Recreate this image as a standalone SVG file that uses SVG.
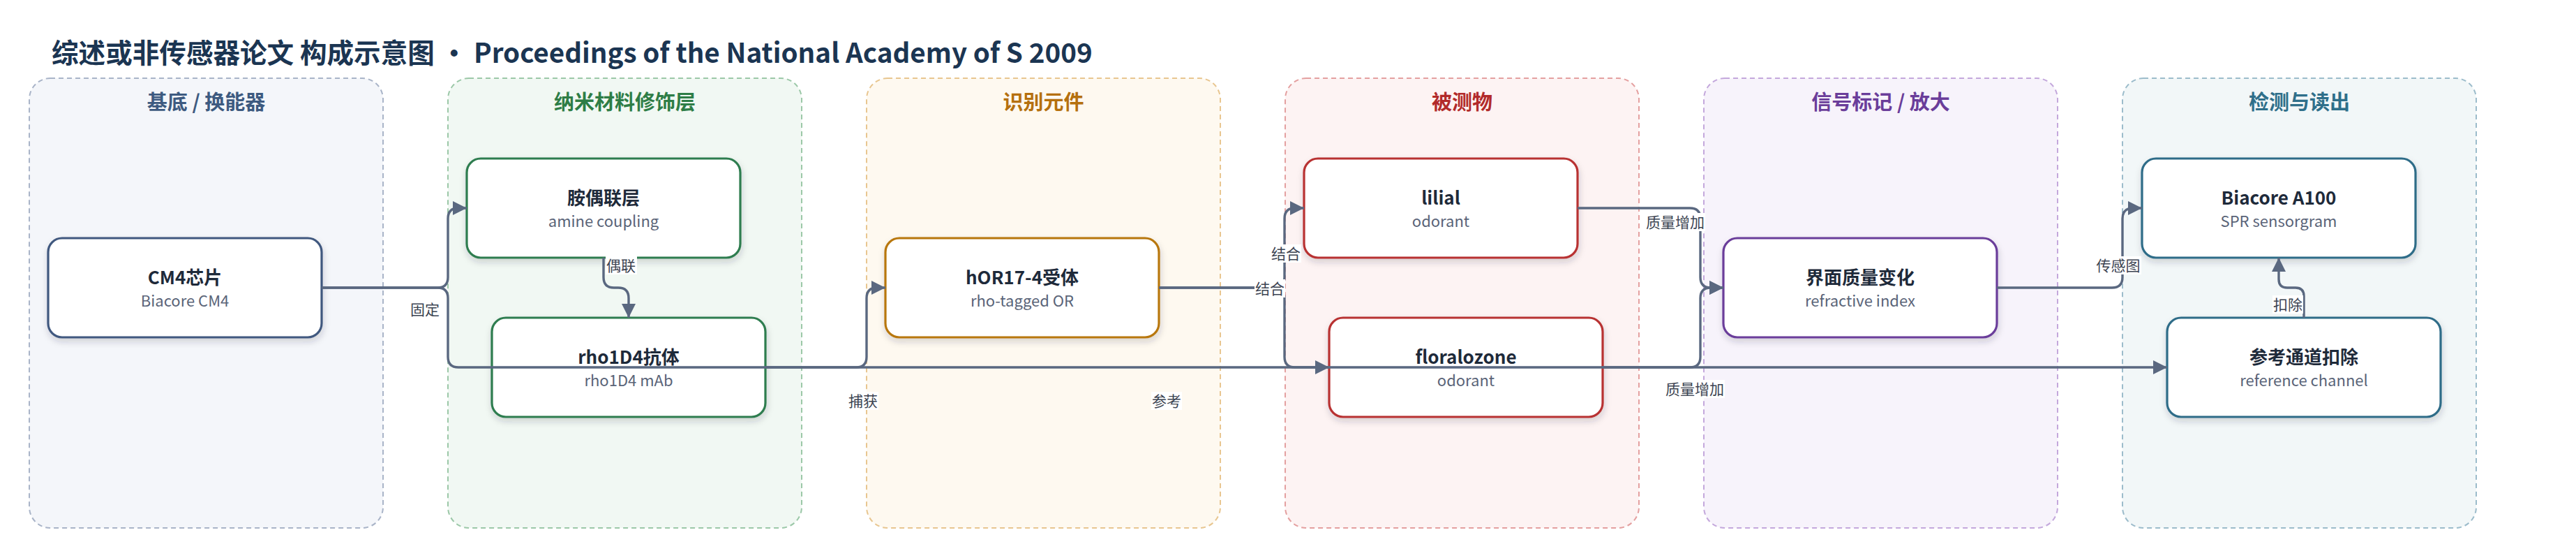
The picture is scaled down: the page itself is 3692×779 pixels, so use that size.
<svg xmlns="http://www.w3.org/2000/svg" width="3692" height="779" viewBox="0 0 3692 779">
<style>
text{font-family:"Noto Sans CJK SC","Noto Sans",sans-serif}
.title{font-size:38.6px;font-weight:700;fill:#1b3552}
.ptitle{font-size:29px;font-weight:700;text-anchor:middle}
.panel{stroke-width:2;stroke-dasharray:7 5}
.node rect{fill:#fff;stroke-width:3.2;filter:url(#sh)}
.nt{font-size:26px;font-weight:700;fill:#1e2a3a;text-anchor:middle}
.ns{font-size:22px;fill:#5a6478;text-anchor:middle}
.edge{fill:none;stroke:#5a6880;stroke-width:3.4;marker-end:url(#arr)}
.lbg{fill:#fff}
.lbl{font-size:21px;fill:#3c4452;text-anchor:middle}
</style>
<defs>
<filter id="sh" x="-10%" y="-10%" width="120%" height="130%">
<feDropShadow dx="1" dy="5" stdDeviation="5" flood-color="#1e2a3a" flood-opacity="0.18"/>
</filter>
<marker id="arr" markerUnits="userSpaceOnUse" markerWidth="21" markerHeight="20" refX="20" refY="10" orient="auto">
<path d="M0,0 L20,10 L0,20 z" fill="#5a6880"/>
</marker>
</defs>
<rect width="3692" height="779" fill="#fff"/>
<text class="title" x="74" y="90">综述或非传感器论文 构成示意图 • Proceedings of the National Academy of S 2009</text>

<g id="panels">
<g id="panel-substrate"><rect class="panel" x="42" y="112" width="507" height="644" rx="30" fill="#f4f6fa" stroke="#a9b4c8"/><text class="ptitle" x="295.5" y="157" fill="#3d5a80">基底 / 换能器</text></g>
<g id="panel-nano"><rect class="panel" x="642" y="112" width="507" height="644" rx="30" fill="#f1f8f3" stroke="#9cc8a8"/><text class="ptitle" x="895.5" y="157" fill="#2e7d46">纳米材料修饰层</text></g>
<g id="panel-recog"><rect class="panel" x="1242" y="112" width="507" height="644" rx="30" fill="#fef9f0" stroke="#e8c690"/><text class="ptitle" x="1495.5" y="157" fill="#b5700e">识别元件</text></g>
<g id="panel-analyte"><rect class="panel" x="1842" y="112" width="507" height="644" rx="30" fill="#fdf3f3" stroke="#e4a0a0"/><text class="ptitle" x="2095.5" y="157" fill="#b22a2a">被测物</text></g>
<g id="panel-signal"><rect class="panel" x="2442" y="112" width="507" height="644" rx="30" fill="#f7f3fb" stroke="#c4a8dc"/><text class="ptitle" x="2695.5" y="157" fill="#6a3d9a">信号标记 / 放大</text></g>
<g id="panel-readout"><rect class="panel" x="3042" y="112" width="507" height="644" rx="30" fill="#f2f7f8" stroke="#9cbccb"/><text class="ptitle" x="3295.5" y="157" fill="#2f6f8a">检测与读出</text></g>
</g>

<g id="n-cm4" class="node"><rect x="69" y="341" width="392" height="142" rx="20" stroke="#41597f"/><text class="nt" x="265" y="407">CM4芯片</text><text class="ns" x="265" y="439">Biacore CM4</text></g>
<g id="n-amine" class="node"><rect x="669" y="227" width="392" height="142" rx="20" stroke="#2e7d4f"/><text class="nt" x="865" y="293">胺偶联层</text><text class="ns" x="865" y="325">amine coupling</text></g>
<g id="n-rho" class="node"><rect x="705" y="455" width="392" height="142" rx="20" stroke="#2e7d4f"/><text class="nt" x="901" y="521">rho1D4抗体</text><text class="ns" x="901" y="553">rho1D4 mAb</text></g>
<g id="n-hor" class="node"><rect x="1269" y="341" width="392" height="142" rx="20" stroke="#b8770b"/><text class="nt" x="1465" y="407">hOR17-4受体</text><text class="ns" x="1465" y="439">rho-tagged OR</text></g>
<g id="n-lilial" class="node"><rect x="1869" y="227" width="392" height="142" rx="20" stroke="#b83030"/><text class="nt" x="2065" y="293">lilial</text><text class="ns" x="2065" y="325">odorant</text></g>
<g id="n-floral" class="node"><rect x="1905" y="455" width="392" height="142" rx="20" stroke="#b83030"/><text class="nt" x="2101" y="521">floralozone</text><text class="ns" x="2101" y="553">odorant</text></g>
<g id="n-mass" class="node"><rect x="2470" y="341" width="392" height="142" rx="20" stroke="#6a3d9a"/><text class="nt" x="2666" y="407">界面质量变化</text><text class="ns" x="2666" y="439">refractive index</text></g>
<g id="n-a100" class="node"><rect x="3070" y="227" width="392" height="142" rx="20" stroke="#2e6c88"/><text class="nt" x="3266" y="293">Biacore A100</text><text class="ns" x="3266" y="325">SPR sensorgram</text></g>
<g id="n-ref" class="node"><rect x="3106" y="455" width="392" height="142" rx="20" stroke="#2e6c88"/><text class="nt" x="3302" y="521">参考通道扣除</text><text class="ns" x="3302" y="553">reference channel</text></g>

<g id="connectors">
<path class="edge" d="M461,412 H627 Q642,412 642,397 V313 Q642,298 657,298 H669"/>
<path class="edge" d="M461,412 H627 Q642,412 642,427 V511 Q642,526 657,526 H3106"/>
<path class="edge" d="M865,369 V397 Q865,412 880,412 H886 Q901,412 901,427 V455"/>
<path class="edge" d="M1097,526 H1227 Q1242,526 1242,511 V427 Q1242,412 1257,412 H1269"/>
<path class="edge" d="M1661,412 H1826 Q1841,412 1841,397 V313 Q1841,298 1856,298 H1869"/>
<path class="edge" d="M1661,412 H1826 Q1841,412 1841,427 V511 Q1841,526 1856,526 H1905"/>
<path class="edge" d="M2261,298 H2422 Q2437,298 2437,313 V397 Q2437,412 2452,412 H2470"/>
<path class="edge" d="M2297,526 H2422 Q2437,526 2437,511 V427 Q2437,412 2452,412 H2470"/>
<path class="edge" d="M2862,412 H3027 Q3042,412 3042,397 V313 Q3042,298 3057,298 H3070"/>
<path class="edge" d="M3302,455 V424 Q3302,412 3290,412 H3278 Q3266,412 3266,400 V369"/>
</g>

<g id="labels">
<rect class="lbg" x="587" y="430" width="44" height="26"/><text class="lbl" x="609" y="451">固定</text>
<rect class="lbg" x="868" y="367" width="45" height="26"/><text class="lbl" x="890" y="388">偶联</text>
<rect class="lbg" x="1215" y="561" width="44" height="26"/><text class="lbl" x="1237" y="582">捕获</text>
<rect class="lbg" x="1650" y="561" width="44" height="26"/><text class="lbl" x="1672" y="582">参考</text>
<rect class="lbg" x="1821" y="350" width="44" height="26"/><text class="lbl" x="1843" y="371">结合</text>
<rect class="lbg" x="1798" y="400" width="44" height="26"/><text class="lbl" x="1820" y="421">结合</text>
<rect class="lbg" x="2358" y="305" width="86" height="26"/><text class="lbl" x="2401" y="326">质量增加</text>
<rect class="lbg" x="2386" y="544" width="86" height="26"/><text class="lbl" x="2429" y="565">质量增加</text>
<rect class="lbg" x="3003" y="367" width="66" height="26"/><text class="lbl" x="3036" y="388">传感图</text>
<rect class="lbg" x="3257" y="423" width="44" height="26"/><text class="lbl" x="3279" y="444">扣除</text>
</g>
</svg>
